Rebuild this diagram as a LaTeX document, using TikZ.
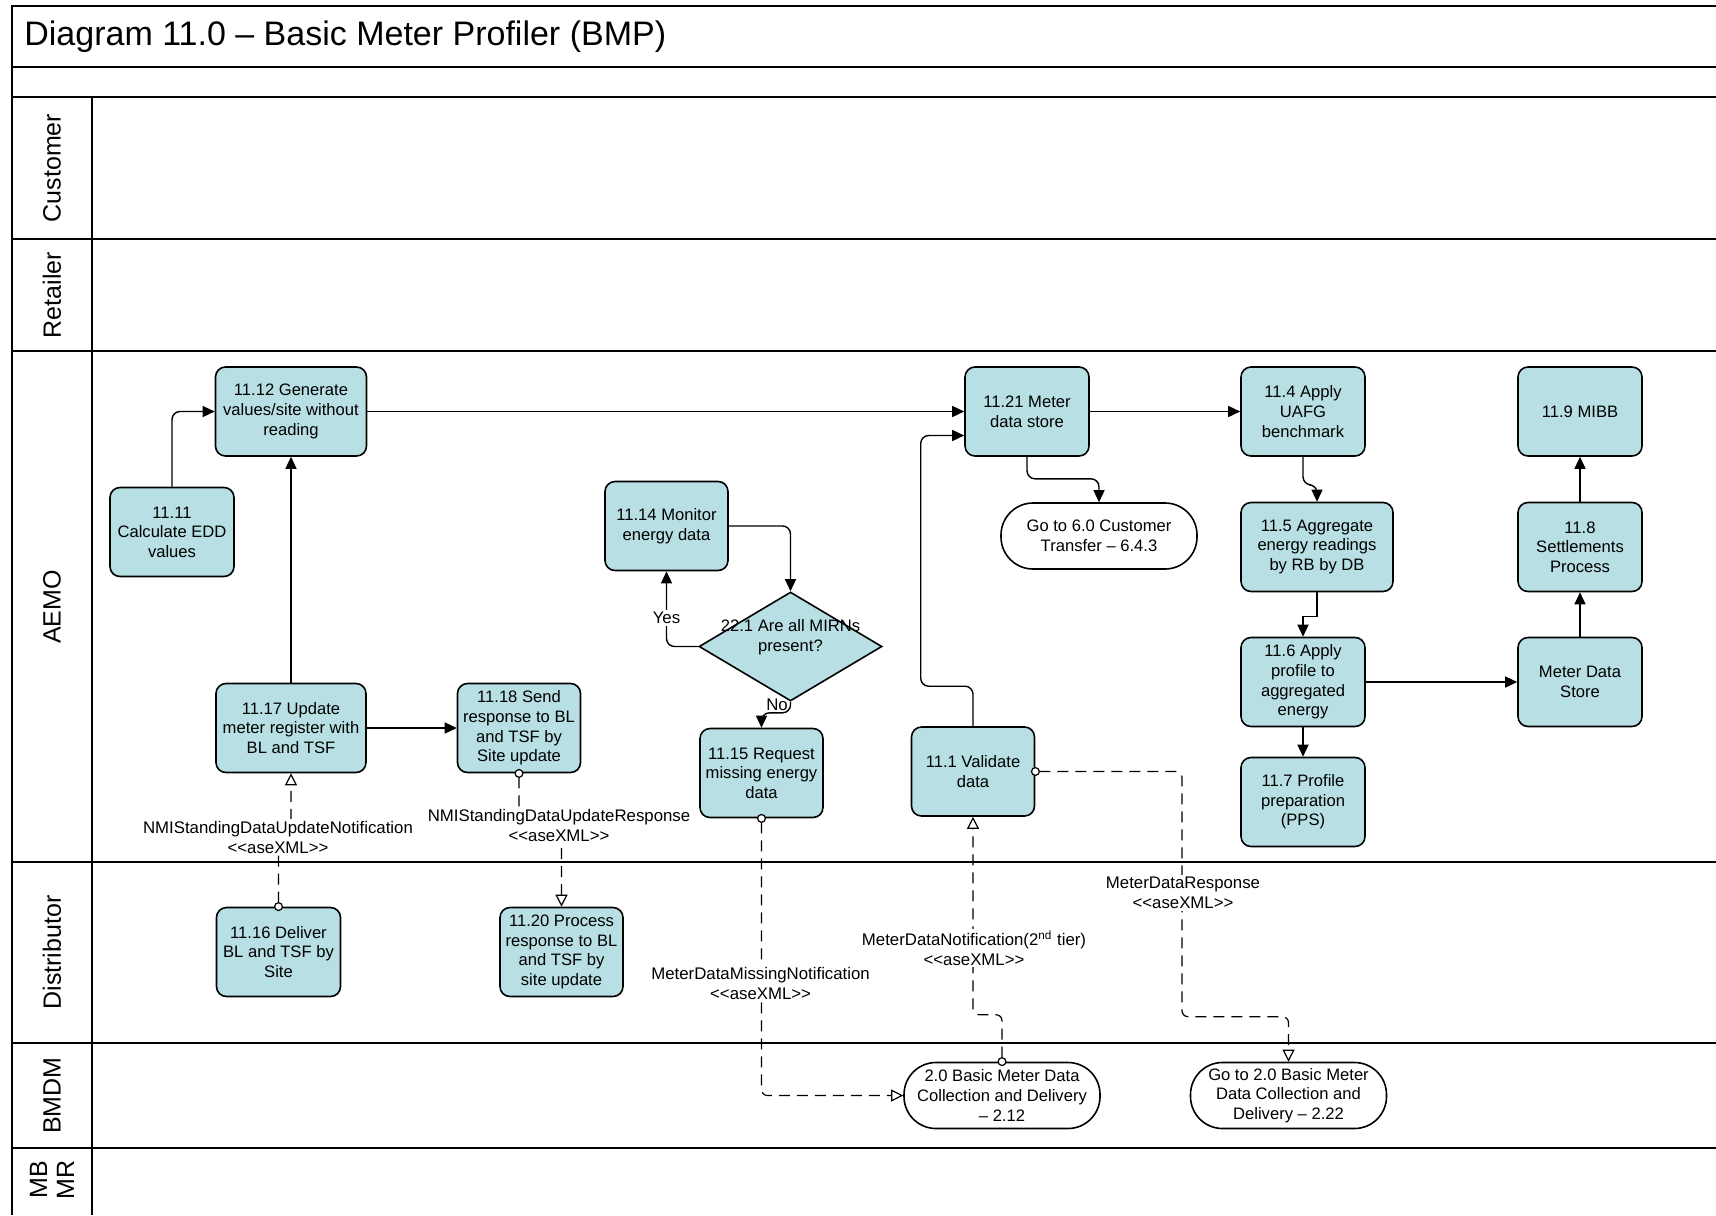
\documentclass[tikz,border=0pt]{standalone}
\usepackage{fontspec}
\setmainfont{Liberation Sans}
\usetikzlibrary{arrows.meta,shapes.geometric,calc}
\definecolor{procfill}{RGB}{184,224,228}
\newcommand\bxfont{\fontsize{8.3}{9.8}\selectfont}
\newcommand\lblfont{\fontsize{8.4}{10}\selectfont}
\newcommand\lanefont{\fontsize{12.5}{13.5}\selectfont}
\newcommand\ttlfont{\fontsize{17}{20}\selectfont}
\newcommand\asexml{<\kern0pt<aseXML>\kern0pt>}
\begin{document}
\begin{tikzpicture}[x=0.5pt,y=-0.5pt,
  proc/.style={draw=black, line width=0.8pt, fill=procfill, rounded corners=5pt,
    minimum width=#1, minimum height=44.5pt, align=center, inner sep=1pt, font=\bxfont},
  proc/.default=62pt,
  term/.style={draw=black, line width=0.8pt, fill=white, rounded corners=16pt,
    minimum width=98pt, minimum height=33pt, align=center, inner sep=1pt, font=\bxfont},
  flow/.style={line width=0.7pt, rounded corners=4pt, -{Triangle[length=6pt,width=5.5pt]}},
  msg/.style={line width=0.6pt, rounded corners=3pt, dash pattern=on 5.5pt off 3.5pt,
    {Circle[fill=white,length=4.5pt,width=4.5pt]}-{Triangle[fill=white,length=6pt,width=6pt]},
    shorten <=-2.2pt},
  lbl/.style={font=\lblfont, align=center, fill=white, inner sep=1pt},
  lanelbl/.style={font=\lanefont, align=center, rotate=90},
  frame/.style={line width=1.1pt}]
\useasboundingbox (0,0) rectangle (1716,1215);

% frame and lanes
\draw[frame] (1716,6) -- (12,6) -- (12,1215);
\foreach \yy in {67,97,239,351,862,1043,1148}
  \draw[frame] (12,\yy) -- (1716,\yy);
\draw[frame] (92,97) -- (92,1215);
\node[font=\ttlfont, anchor=west, inner sep=0pt] (title) at (24,37) {Diagram 11.0 – Basic Meter Profiler (BMP)};
\node[lanelbl] (lcust) at (52,168) {Customer};
\node[lanelbl] (lret) at (52,295) {Retailer};
\node[lanelbl] (laemo) at (52,607) {AEMO};
\node[lanelbl] (ldist) at (52,952.5) {Distributor};
\node[lanelbl] (lbmdm) at (52,1095.5) {BMDM};
\node[lanelbl] (lmbmr) at (52,1180) {MB\\MR};

% process nodes
\node[proc=75.5pt] (n1112) at (291,411.5) {11.12 Generate\\values/site without\\reading};
\node[proc] (n1111) at (172,532) {11.11\\Calculate EDD\\values};
\node[proc=61.5pt] (n1114) at (666.5,526) {11.14 Monitor\\energy data};
\node[diamond, draw=black, line width=0.8pt, fill=procfill, minimum width=91.5pt,
  minimum height=54.5pt, inner sep=0pt] (d221) at (790.5,646.5) {};
\node[font=\bxfont, align=center, inner sep=0pt] (d221t) at (790.5,637) {22.1 Are all MIRNs\\present?};
\node[proc=61.5pt] (n1115) at (761.5,773) {11.15 Request\\missing energy\\data};
\node[proc=75pt] (n1117) at (291,728) {11.17 Update\\meter register with\\BL and TSF};
\node[proc=61.5pt] (n1118) at (519,728) {11.18 Send\\response to BL\\and TSF by\\Site update};
\node[proc] (n1116) at (278.5,952) {11.16 Deliver\\BL and TSF by\\Site};
\node[proc=61.5pt] (n1120) at (561.5,952) {11.20 Process\\response to BL\\and TSF by\\site update};
\node[proc] (n1121) at (1027,411.5) {11.21 Meter\\data store};
\node[term] (t60) at (1099,536) {Go to 6.0 Customer\\Transfer – 6.4.3};
\node[proc] (n114) at (1303,411.5) {11.4 Apply\\UAFG\\benchmark};
\node[proc] (n119) at (1580,411.5) {11.9 MIBB};
\node[proc=76pt] (n115) at (1317,547) {11.5 Aggregate\\energy readings\\by RB by DB};
\node[proc] (n118) at (1580,547) {11.8\\Settlements\\Process};
\node[proc] (n116) at (1303,682) {11.6 Apply\\profile to\\aggregated\\energy};
\node[proc] (nmds) at (1580,682) {Meter Data\\Store};
\node[proc] (n117) at (1303,802) {11.7 Profile\\preparation\\(PPS)};
\node[proc=61.5pt] (n111) at (973,771.5) {11.1 Validate\\data};
\node[term] (t212) at (1002,1095.5) {2.0 Basic Meter Data\\Collection and Delivery\\– 2.12};
\node[term] (t222) at (1288.5,1095.5) {Go to 2.0 Basic Meter\\Data Collection and\\Delivery – 2.22};

% control flow
\draw[flow] (n1111.north) |- (n1112.west);
\draw[flow] (n1117.north) -- (n1112.south);
\draw[flow] (n1112.east) -- (n1121.west);
\draw[flow] (n1121.east) -- (n114.west);
\draw[flow] (n1121.south) -- ++(0,22) -| (t60.north);
\draw[flow] (n114.south) -- ++(0,28) -| (n115.north);
\draw[flow, rounded corners=0pt] (n115.south) -- ++(0,24) -| (n116.north);
\draw[flow] (n116.east) -- (nmds.west);
\draw[flow] (n116.south) -- (n117.north);
\draw[flow] (nmds.north) -- (n118.south);
\draw[flow] (n118.north) -- (n119.south);
\coordinate (in1121) at ($(n1121.west)+(0,24)$);
\draw[flow] (n111.north) -- ++(0,-40) -| ($(in1121)+(-43.5,0)$) -- (in1121);
\draw[flow] (n1114.east) -| (d221.north);
\draw[flow] (d221.west) -| (n1114.south);
\node[font=\lblfont, fill=white, inner sep=1pt] (lyes) at (666.5,618) {Yes};
\draw[flow] (d221.south) -- ++(0,11) -| (n1115.north);
\node[font=\lblfont, inner sep=0pt] (lno) at (777,705) {No};
\draw[flow] (n1117.east) -- (n1118.west);

% message flows
\draw[msg] (n1116.north) -- ++(0,-72) -| (n1117.south);
\node[lbl] (m1) at (278,837) {NMIStandingDataUpdateNotification\\\asexml};
\draw[msg] (n1118.south) -- ++(0,50) -| (n1120.north);
\node[lbl] (m2) at (559,825) {NMIStandingDataUpdateResponse\\\asexml};
\draw[msg] (n1115.south) |- (t212.west);
\node[lbl] (m3) at (760.6,983) {MeterDataMissingNotification\\\asexml};
\draw[msg] (t212.north) -- ++(0,-47) -| (n111.south);
\node[lbl] (m4) at (974,948) {MeterDataNotification(2\textsuperscript{nd} tier)\\\asexml};
\draw[msg] (n111.east) -| ($(t222.north)+(-106.5,-45)$) -| (t222.north);
\node[lbl] (m5) at (1183,893) {MeterDataResponse\\\asexml};
\end{tikzpicture}
\end{document}
